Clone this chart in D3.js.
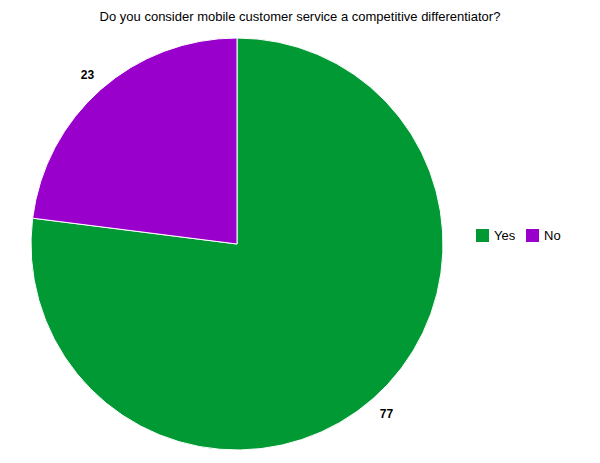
<!DOCTYPE html>
<html><head><meta charset="utf-8">
<script src="https://d3js.org/d3.v7.min.js"></script>
<style>body{margin:0;background:#fff}</style></head>
<body><svg id="c" width="600" height="463"></svg>
<script>
const categories = ["Yes", "No"];
const values = [77, 23];
const colors = ["#009933", "#9900cc"];

const svg = d3.select("#c");
const font = "Liberation Sans, Arial, sans-serif";
svg.append("text").attr("x", 300).attr("y", 21).attr("text-anchor", "middle")
  .attr("font-family", font).attr("font-size", 13).text("Do you consider mobile customer service a competitive differentiator?");

const cx = 237, cy = 244, r = 206;
const pie = d3.pie().sort(null).value(d => d)(values);
const arc = d3.arc().innerRadius(0).outerRadius(r);
const g = svg.append("g").attr("transform", `translate(${cx},${cy})`);
g.selectAll("path").data(pie).join("path").attr("d", arc)
  .attr("fill", (d, i) => colors[i]).attr("stroke", "#fff").attr("stroke-width", 1);
const lab = d3.arc().innerRadius(226).outerRadius(226);
g.selectAll("text").data(pie).join("text")
  .attr("transform", d => `translate(${lab.centroid(d)})`)
  .attr("text-anchor", "middle").attr("dy", "0.35em")
  .attr("font-family", font).attr("font-size", 12).attr("font-weight", "bold")
  .text(d => d.data);

const lg = svg.append("g").attr("transform", "translate(476,229)");
const offs = [0, 50];
categories.forEach((c, i) => {
  lg.append("rect").attr("x", offs[i]).attr("y", 0).attr("width", 13).attr("height", 13).attr("fill", colors[i]);
  lg.append("text").attr("x", offs[i] + 18).attr("y", 11).attr("font-family", font).attr("font-size", 13).text(c);
});
</script></body></html>
